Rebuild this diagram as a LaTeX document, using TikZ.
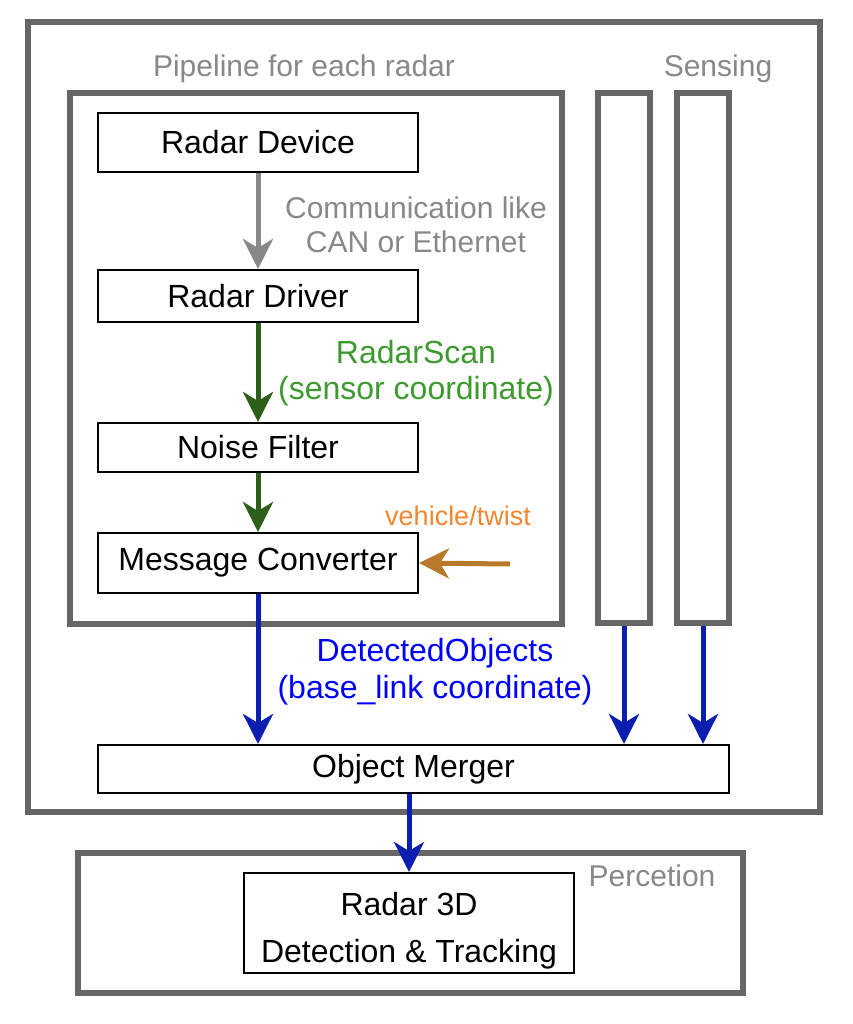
\documentclass[tikz,border=0pt]{standalone}
\usepackage{fontspec}
\setmainfont{Liberation Sans}
\usetikzlibrary{arrows.meta, positioning}

\definecolor{groupgray}{HTML}{666666}
\definecolor{labelgray}{HTML}{888888}
\definecolor{scangreen}{HTML}{2D5F1B}
\definecolor{scantext}{HTML}{3C9A2E}
\definecolor{objblue}{HTML}{0A1FB0}
\definecolor{objtext}{HTML}{0000FF}
\definecolor{twistarrow}{HTML}{B8792B}
\definecolor{twisttext}{HTML}{F0862E}

\begin{document}
\begin{tikzpicture}[
    x=1pt, y=-1pt,
    every node/.style={font=\fontsize{32}{36}\selectfont, inner sep=0pt},
    box/.style={draw=black, line width=2pt, minimum width=320pt, align=center},
    group/.style={draw=groupgray, line width=6pt},
    grouplabel/.style={text=labelgray, font=\fontsize{30}{34}\selectfont},
    arrow/.style={-{Stealth[length=30pt, width=30pt, inset=9pt]}, line width=5pt}
]
\useasboundingbox (0,0) rectangle (852,1024);

% Sensing
\node[group, minimum width=792pt, minimum height=790pt] (sensing) at (424,417) {};
\node[grouplabel] (sensinglabel) at (718,69) {Sensing};
\node[group, minimum width=492pt, minimum height=531pt] (pipeline) at (316,358.5) {};
\node[grouplabel] (pipelinelabel) at (304,69) {Pipeline for each radar};
\node[group, minimum width=52pt, minimum height=530pt] (otherpipea) at (624,358) {};
\node[group, minimum width=52pt, minimum height=530pt] (otherpipeb) at (703,358) {};

% Radar pipeline
\node[box, minimum height=59pt] (device) at (258,142.5) {Radar Device};
\node[box, minimum height=52pt] (driver) at (258,296) {Radar Driver};
\node[box, minimum height=49pt] (filter) at (258,447.5) {Noise Filter};
\node[box, minimum height=60pt] (converter) at (258,563) {Message Converter};
\node[box, minimum width=631pt, minimum height=48pt] (merger) at (413.5,769) {Object Merger};

\node[grouplabel, align=center] (commlabel) at (416,225) {Communication like\\CAN or Ethernet};
\node[text=scantext, align=center] (scanlabel) at (416,373) {RadarScan\\(sensor coordinate)};
\node[text=twisttext, font=\fontsize{27}{30}\selectfont] (twistlabel) at (458,516) {vehicle/twist};
\node[text=objtext, align=center] (objlabel) at (435,672) {DetectedObjects\\[1pt](base\_link coordinate)};
\coordinate (twistin) at (510,564);

% Perception
\node[group, minimum width=665pt, minimum height=140pt] (perception) at (410.5,923) {};
\node[grouplabel] (perceptionlabel) at (652,876) {Percetion};
\node[box, minimum width=330pt, minimum height=100pt] (tracking) at (409,923) {\rule{0pt}{38pt}Radar 3D\\[11pt]Detection \& Tracking};

% Arrows
\draw[arrow, labelgray] (device) -- (driver);
\draw[arrow, scangreen] (driver) -- (filter);
\draw[arrow, scangreen] (filter) -- (converter);
\draw[arrow, twistarrow] (twistin) -- (converter.east);
\draw[arrow, objblue] (converter.south) -- (converter.south |- merger.north);
\draw[arrow, objblue] (otherpipea.south) -- (otherpipea.south |- merger.north);
\draw[arrow, objblue] (otherpipeb.south) -- (otherpipeb.south |- merger.north);
\draw[arrow, objblue] (merger.south -| tracking.north) -- (tracking.north);

\end{tikzpicture}
\end{document}
